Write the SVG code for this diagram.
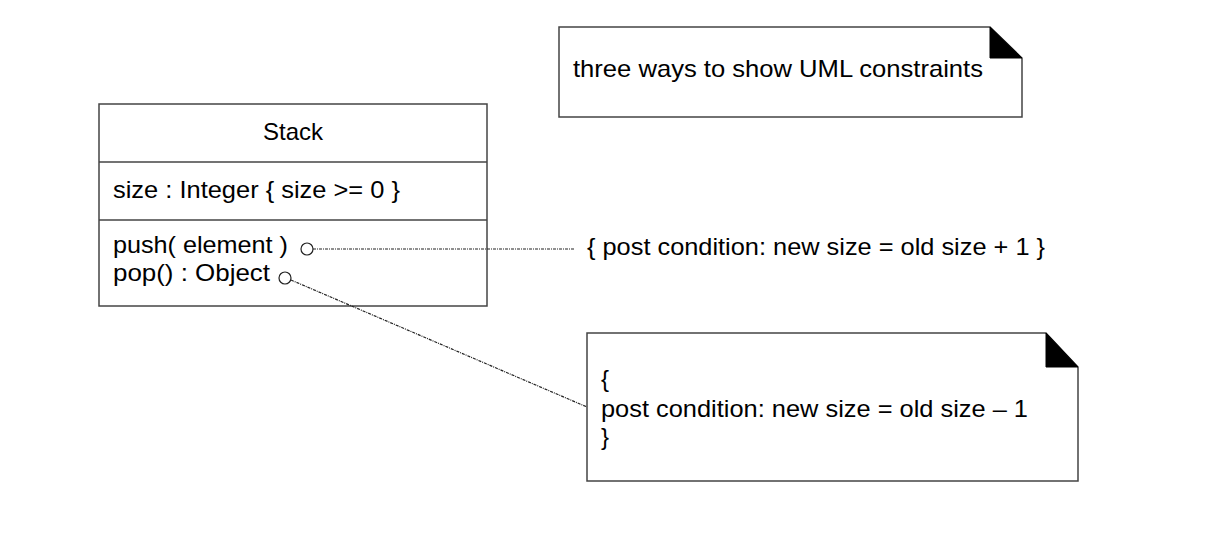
<svg xmlns="http://www.w3.org/2000/svg" width="1210" height="548" viewBox="0 0 1210 548">
<style>
  .box { fill: #ffffff; stroke: #444444; stroke-width: 1.5; }
  .fold { fill: #000000; stroke: #000000; stroke-width: 1; }
  .t { font-family: "Liberation Sans", Arial, sans-serif; font-size: 24px; fill: #000000; }
  .dot { fill: none; stroke: #222222; stroke-width: 1.2; stroke-dasharray: 3 1 1 1; }
  .port { fill: #ffffff; stroke: #222222; stroke-width: 1.2; }
</style>
<rect width="1210" height="548" fill="#ffffff"/>
<g id="stack">
  <rect class="box" x="99" y="104" width="388" height="202"/>
  <line class="box" x1="99" y1="162" x2="487" y2="162"/>
  <line class="box" x1="99" y1="220" x2="487" y2="220"/>
  <text class="t" x="293" y="140" text-anchor="middle">Stack</text>
  <text class="t" x="113" y="198" textLength="287" lengthAdjust="spacingAndGlyphs">size : Integer { size &gt;= 0 }</text>
  <text class="t" x="113" y="253" textLength="175" lengthAdjust="spacingAndGlyphs">push( element )</text>
  <text class="t" x="113" y="281" textLength="157" lengthAdjust="spacingAndGlyphs">pop() : Object</text>
</g>
<g id="note-title">
  <path class="box" d="M559,27 L990,27 L1022,58 L1022,117 L559,117 Z"/>
  <path class="fold" d="M990,27 L990,58 L1022,58 Z"/>
  <text class="t" x="573" y="77" textLength="410" lengthAdjust="spacingAndGlyphs">three ways to show UML constraints</text>
</g>
<g id="push-constraint">
  <text class="t" x="587" y="255" textLength="458" lengthAdjust="spacingAndGlyphs">{ post condition: new size = old size + 1 }</text>
</g>
<g id="note-pop">
  <path class="box" d="M587,333 L1046,333 L1078,367 L1078,481 L587,481 Z"/>
  <path class="fold" d="M1046,333 L1046,367 L1078,367 Z"/>
  <text class="t" x="601" y="387">{</text>
  <text class="t" x="601" y="417" textLength="427" lengthAdjust="spacingAndGlyphs">post condition: new size = old size – 1</text>
  <text class="t" x="601" y="445">}</text>
</g>
<g id="connectors">
  <line class="dot" x1="313" y1="249" x2="575" y2="249"/>
  <line class="dot" x1="291" y1="280" x2="587" y2="407"/>
  <circle class="port" cx="307" cy="249" r="6"/>
  <circle class="port" cx="285" cy="278" r="6"/>
</g>
</svg>
